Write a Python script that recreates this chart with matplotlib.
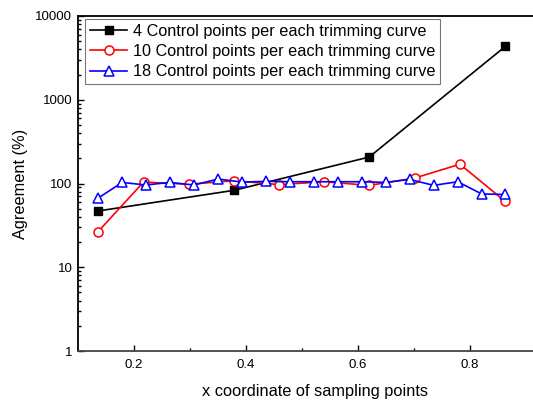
import numpy as np
import matplotlib
matplotlib.use('Agg')
from matplotlib import pyplot as plt

plt.rcParams['font.family'] = ['Liberation Sans', 'DejaVu Sans']

# 4 control points per trimming curve
x4 = [0.136, 0.379, 0.620, 0.863]
y4 = [47, 83, 207, 4330]

# 10 control points per trimming curve
x10 = [0.136, 0.217, 0.298, 0.379, 0.459, 0.540, 0.620, 0.701, 0.782, 0.863]
y10 = [26.7, 104, 98, 108, 97, 105, 95, 116, 170, 61]

# 18 control points per trimming curve
x18 = [0.136, 0.179, 0.221, 0.264, 0.307, 0.350, 0.393, 0.436, 0.478,
       0.521, 0.564, 0.607, 0.650, 0.692, 0.735, 0.778, 0.821, 0.863]
y18 = [67, 103, 96, 103, 96, 113, 104, 106, 105,
       105, 105, 105, 103, 112, 95, 105, 75, 74]

labels = ['4 Control points per each trimming curve',
          '10 Control points per each trimming curve',
          '18 Control points per each trimming curve']

fig = plt.figure(figsize=(5.33, 4.03), dpi=100)
ax = fig.add_axes([78 / 533, 52 / 403, 475 / 533, 335 / 403])

ax.plot(x4, y4, color='black', lw=1.2, marker='s', ms=6,
        mfc='black', mec='black', label=labels[0])
ax.plot(x10, y10, color='red', lw=1.2, marker='o', ms=6.5,
        mfc='white', mec='red', mew=1.1, label=labels[1])
ax.plot(x18, y18, color='blue', lw=1.2, marker='^', ms=7.5,
        mfc='white', mec='blue', mew=1.1, label=labels[2])

ax.set_yscale('log')
ax.set_ylim(1, 10000)
ax.set_xlim(0.1, 0.1 + 475 / 560)
ax.set_xticks([0.2, 0.4, 0.6, 0.8])
ax.set_xticks([0.3, 0.5, 0.7], minor=True)
ax.set_yticks([1, 10, 100, 1000, 10000])
ax.set_yticklabels(['1', '10', '100', '1000', '10000'])

ax.tick_params(which='both', direction='in', labelsize=9.5, color='black')
ax.tick_params(which='major', length=4, width=1)
ax.tick_params(which='minor', length=2.5, width=1)
ax.tick_params(axis='x', pad=6)
ax.tick_params(axis='y', pad=4)

for side in ['left', 'top', 'bottom']:
    ax.spines[side].set_linewidth(1.3)
ax.spines['right'].set_visible(False)
ax.spines['bottom'].set_color('#444444')

ax.set_xlabel('x coordinate of sampling points', fontsize=11.8, labelpad=9)
ax.set_ylabel('Agreement (%)', fontsize=11.8, labelpad=5)

leg = ax.legend(loc='upper left', bbox_to_anchor=(0.0147, 0.991),
                fontsize=11.7, frameon=True, fancybox=False,
                edgecolor='#555555', handlelength=2.3, handletextpad=0.35,
                borderpad=0.3, labelspacing=0.32, borderaxespad=0)
leg.get_frame().set_linewidth(0.8)

fig.savefig('out.png', dpi=100)
